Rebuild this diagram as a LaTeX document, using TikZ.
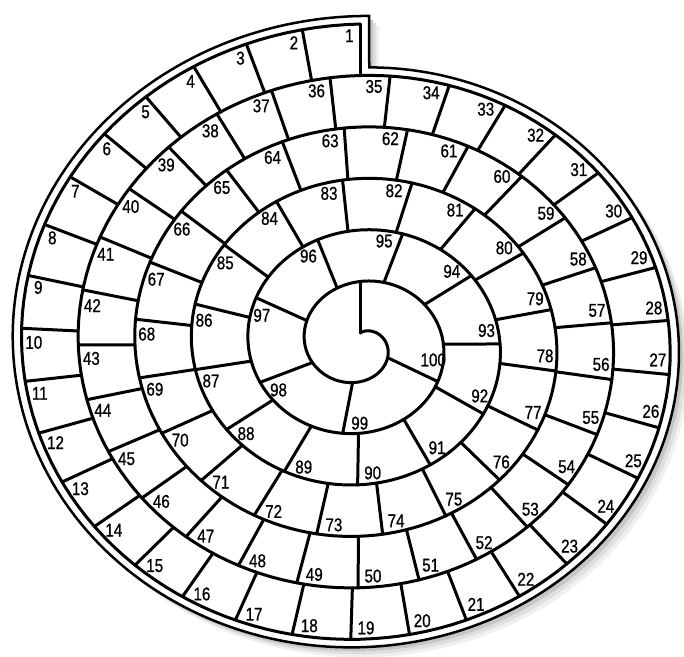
\documentclass[tikz,border=0pt]{standalone}
\usepackage{fontspec}
\newfontfamily\numfont[FakeStretch=0.82,FakeBold=0.8]{Liberation Sans}
\usetikzlibrary{calc}

% spiral: centre, start radius, pitch per turn, horizontal stretch
\def\cx{360}
\def\cy{344.5}
\def\rr{320.5}
\def\pp{51.5}
\def\sx{1.1}

\begin{document}
\begin{tikzpicture}[x=1pt,y=-1pt,
    track/.style={line width=3pt,line join=round,line cap=round},
    rim/.style={line width=2.5pt,line join=miter},
    num/.style={font=\numfont\fontsize{18.5}{18.5}\selectfont,inner sep=0pt}
]
\useasboundingbox (0,0) rectangle (684,656);

% shadow and outer rim
\foreach \d/\g in {10/12,7/25,4/45}
  \fill[gray!\g] plot[domain=-0.004:0.9953,samples=300,variable=\t]
    ({\d+\cx+\sx*(\rr+8-\pp*\t)*cos(90+360*\t)},{\d+\cy-(\rr+8-\pp*\t)*sin(90+360*\t)}) -- cycle;
\filldraw[rim,fill=white] plot[domain=-0.004:0.9953,samples=300,variable=\t]
    ({\cx+\sx*(\rr+8-\pp*\t)*cos(90+360*\t)},{\cy-(\rr+8-\pp*\t)*sin(90+360*\t)}) -- cycle;

% the spiral line
\draw[track] plot[domain=0:6,samples=900,variable=\t]
  ({\cx+\sx*(\rr-\pp*\t)*cos(90+360*\t)},{\cy-(\rr-\pp*\t)*sin(90+360*\t)});

% cell walls
\foreach \n in {0,...,100}{
  \pgfmathsetmacro\tn{(38.125-sqrt(1453.515625-14.5*\n))/7.25}
  \pgfmathsetmacro\an{90+360*\tn}
  \pgfmathsetmacro\ro{\rr-\pp*\tn}
  \coordinate (o\n) at ({\cx+\sx*\ro*cos(\an)},{\cy-\ro*sin(\an)});
  \coordinate (i\n) at ({\cx+\sx*(\ro-\pp)*cos(\an)},{\cy-(\ro-\pp)*sin(\an)});
  \draw[track] (o\n) -- (i\n);
}

% numbers
\foreach \n in {1,...,100}{
  \pgfmathsetmacro\tn{(38.125-sqrt(1453.515625-14.5*(\n-1)))/7.25}
  \pgfmathsetmacro\rl{\rr-\pp*\tn-11.5}
  \pgfmathsetmacro\w{\n<10 ? 8.2 : (\n<100 ? 16.4 : 24.6)}
  \pgfmathsetmacro\an{90+360*\tn+(6+\w/2)/(\rl*1.05)*57.2958}
  \node[num] (sq\n) at ({\cx+\sx*\rl*cos(\an)},{\cy-\rl*sin(\an)}) {\n};
}
\end{tikzpicture}
\end{document}
